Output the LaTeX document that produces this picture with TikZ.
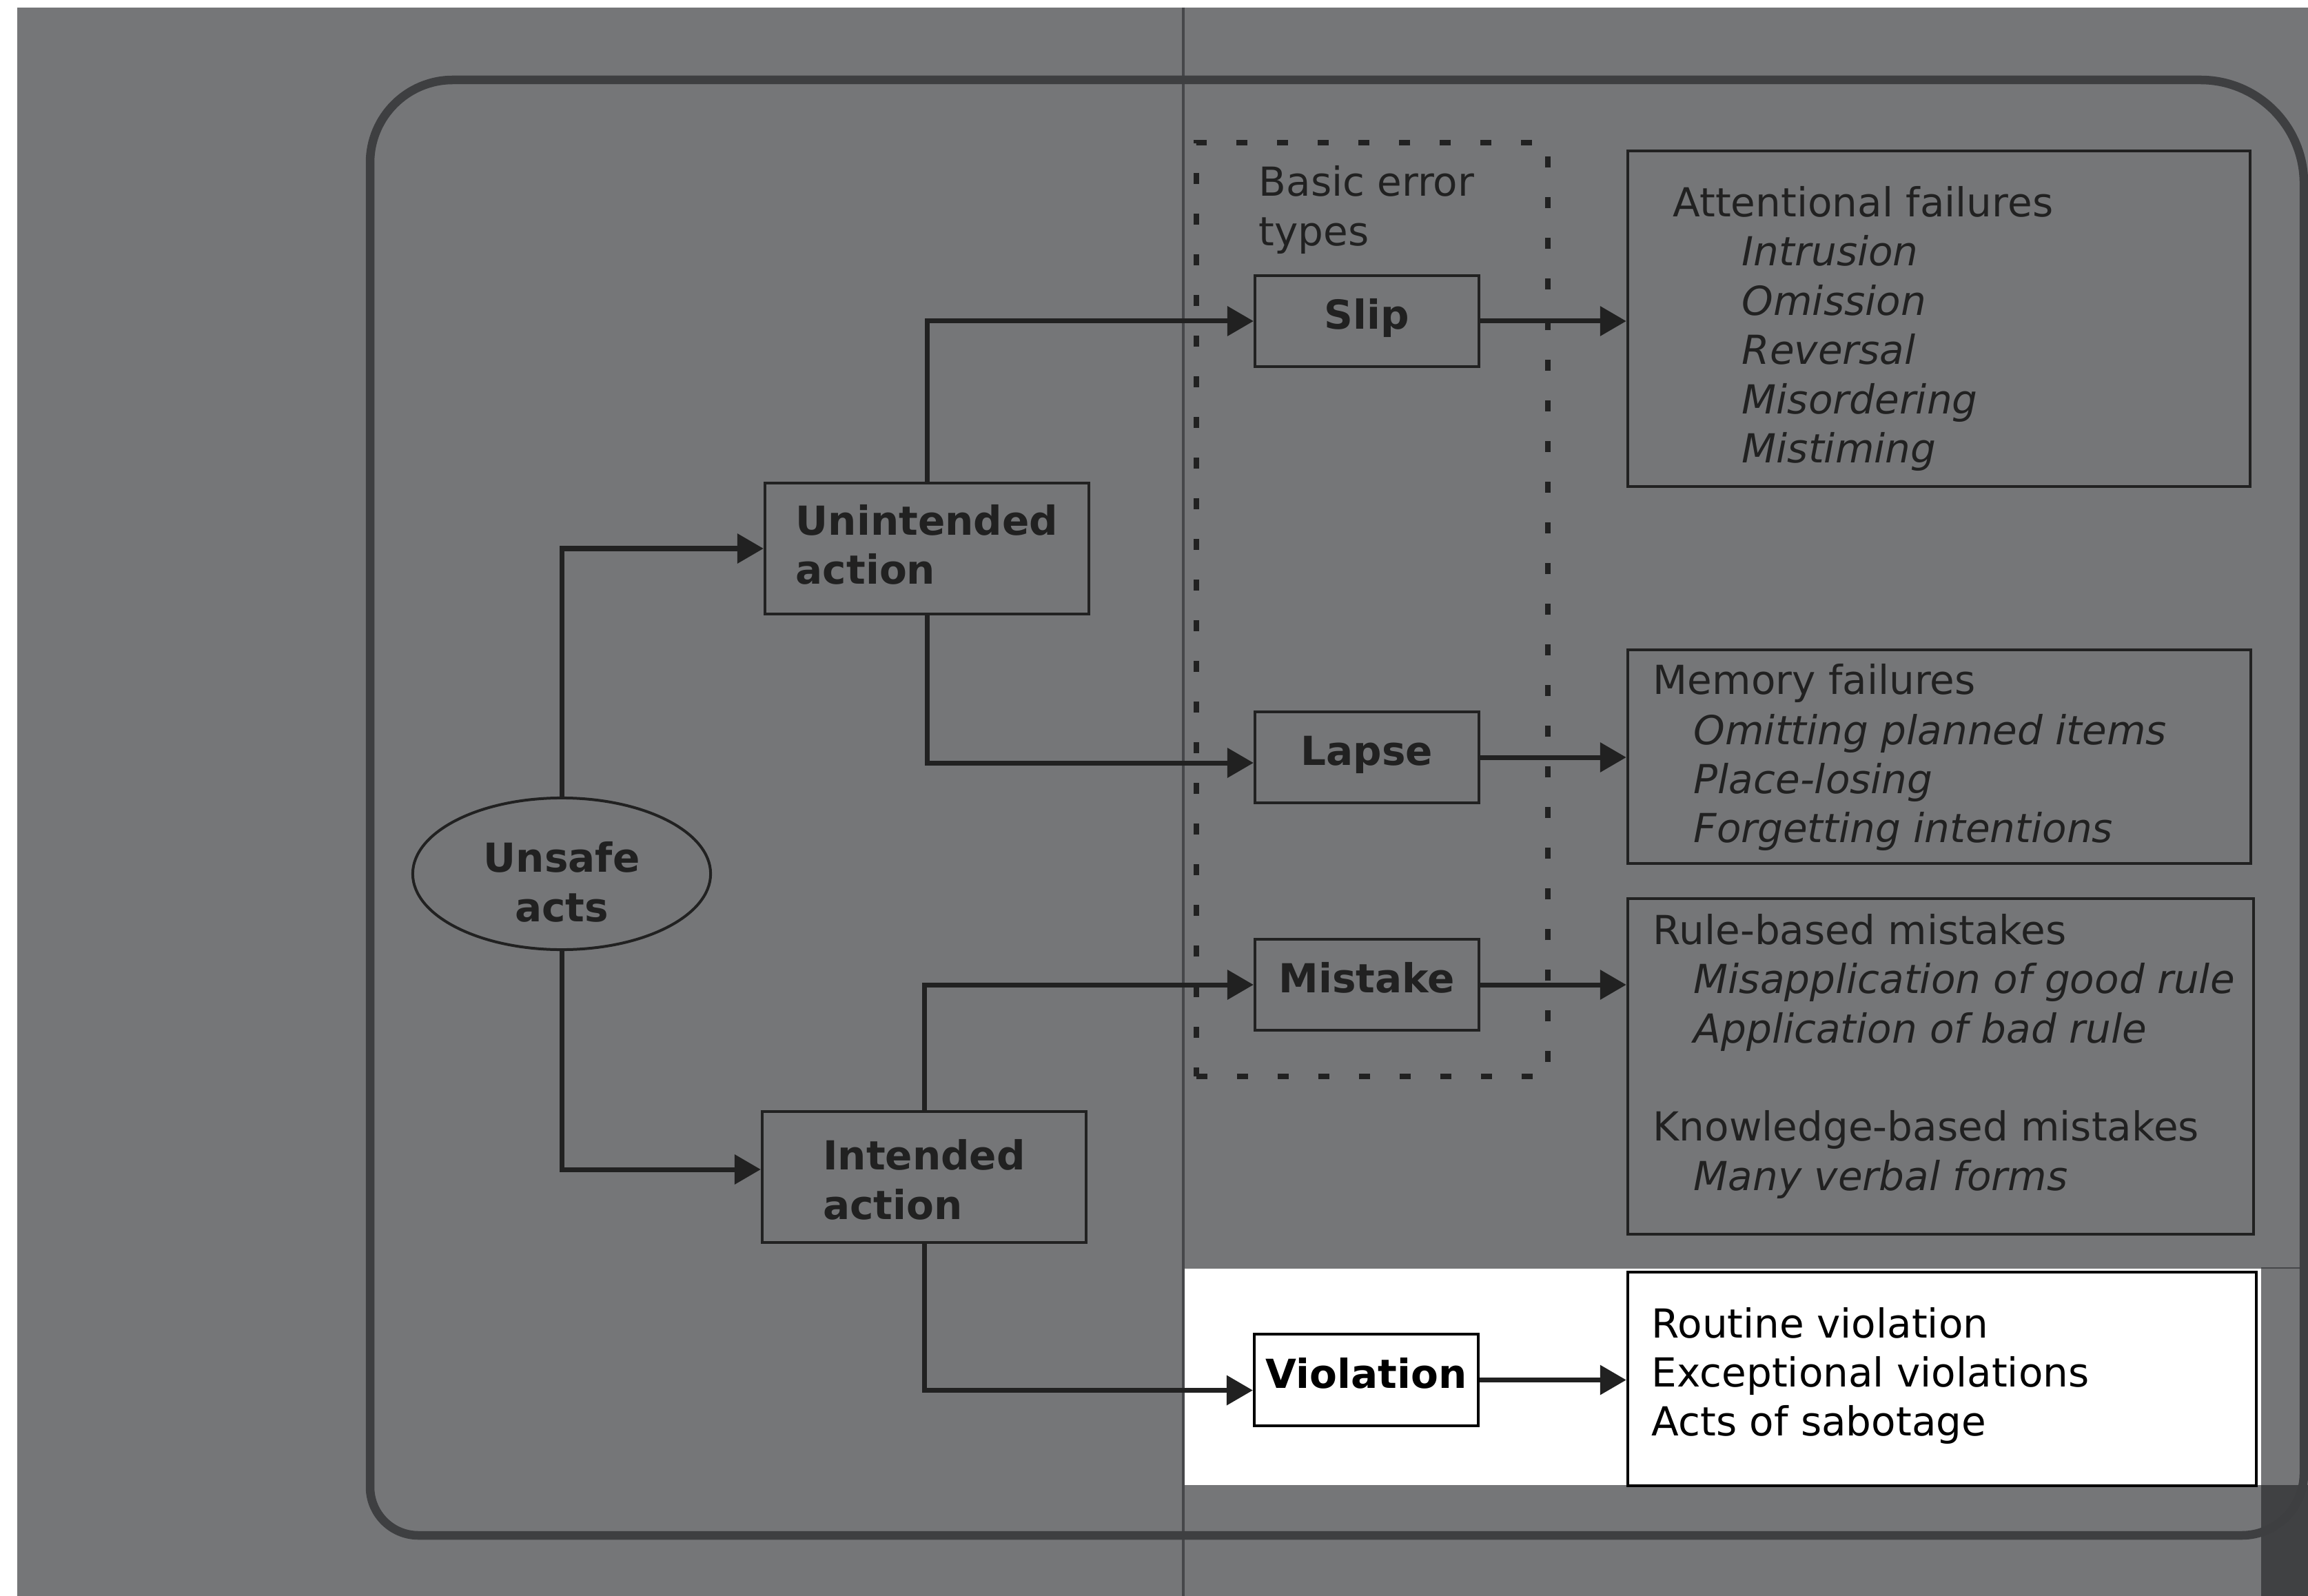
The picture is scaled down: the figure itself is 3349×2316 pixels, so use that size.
\documentclass[tikz,border=0pt]{standalone}
\usepackage{fontspec}
\setmainfont{DejaVu Sans}
\usetikzlibrary{arrows.meta,shapes.geometric}
\definecolor{bggray}{HTML}{757678}
\definecolor{framegray}{HTML}{3E3F41}
\definecolor{ink}{HTML}{212121}
\definecolor{cornerdark}{HTML}{404143}
\definecolor{thinline}{HTML}{46474A}
\newcommand{\mysize}{\fontsize{16.5pt}{20.35pt}\selectfont}
\begin{document}
\begin{tikzpicture}[x=0.01cm,y=-0.01cm,
  txt/.style={font=\mysize, text=ink, inner sep=0pt, anchor=base west},
  itx/.style={txt, font=\mysize\itshape},
  wtx/.style={txt, text=black},
  box/.style={draw=ink, line width=0.04cm, inner sep=0pt},
  errbox/.style={box, minimum width=3.25cm, minimum height=1.32cm, font=\mysize\bfseries, text=ink, text height=0.8em, text depth=0.13em},
  actbox/.style={box, minimum width=4.7cm, minimum height=1.89cm, align=left, font=\mysize\bfseries, text=ink},
  conn/.style={draw=ink, line width=0.07cm, -{Triangle[length=0.38cm,width=0.42cm]}},
]
\useasboundingbox (0,0) rectangle (3349,2316);
% background layers
\fill[white] (0,0) rectangle (3349,2316);
\fill[bggray] (25,11) rectangle (3349,2316);
\fill[white] (1719,1841) rectangle (3281,2155);
\fill[cornerdark] (3281,2155) rectangle (3349,2316);
\draw[thinline, line width=0.035cm] (1717,11) -- (1717,2316);
\draw[thinline, line width=0.02cm] (3281,1840) -- (3349,1840);
% outer frame
\draw[framegray, line width=0.125cm] (537,1200) [rounded corners=1.2cm] -- (537,116) [rounded corners=1.5cm] -- (3343,116) [rounded corners=0.9cm] -- (3343,2228) [rounded corners=0.7cm] -- (537,2228) -- cycle;
% dotted group
\node[draw=ink, line width=0.08cm, dash pattern=on 0.16cm off 0.43cm, minimum width=5.1cm, minimum height=13.55cm, inner sep=0pt] (basic) at (1991,884.5) {};
\node[txt] (basic1) at (1826,285) {Basic error};
\node[txt] (basic2) at (1826,357) {types};
% error type boxes
\node[errbox] (slip) at (1983.5,466) {Slip};
\node[errbox] (lapse) at (1983.5,1099) {Lapse};
\node[errbox] (mistake) at (1983.5,1429) {Mistake};
\node[errbox, draw=black, text=black] (viol) at (1982.5,2002.5) {Violation};
% action boxes
\node[actbox] (unint) at (1345,796) {Unintended\\action\rule[-0.12cm]{0pt}{0.12cm}};
\node[actbox] (inten) at (1341,1708) {\rule{0pt}{0.52cm}Intended\\action};
\node[draw=ink, line width=0.04cm, ellipse, minimum width=4.32cm, minimum height=2.2cm, inner sep=0pt, align=center, font=\mysize\bfseries, text=ink] (ua) at (815,1268) {\rule{0pt}{0.68cm}Unsafe\\acts};
% description boxes
\node[box, minimum width=9.03cm, minimum height=4.87cm] (attn) at (2813.5,462.5) {};
\node[box, minimum width=9.04cm, minimum height=3.10cm] (mem) at (2814,1098) {};
\node[box, minimum width=9.08cm, minimum height=4.87cm] (rule) at (2816,1547.5) {};
\node[box, draw=black, minimum width=9.12cm, minimum height=3.10cm] (routine) at (2818,2001) {};
% texts of description boxes
\node[txt] (a0) at (2427,315) {Attentional failures};
\node[itx] (a1) at (2527,386) {Intrusion};
\node[itx] (a2) at (2527,458) {Omission};
\node[itx] (a3) at (2527,529) {Reversal};
\node[itx] (a4) at (2527,601) {Misordering};
\node[itx] (a5) at (2527,672) {Mistiming};
\node[txt] (m0) at (2398,1007) {Memory failures};
\node[itx] (m1) at (2457,1080) {Omitting planned items};
\node[itx] (m2) at (2457,1151) {Place-losing};
\node[itx] (m3) at (2457,1222) {Forgetting intentions};
\node[txt] (r0) at (2398,1370) {Rule-based mistakes};
\node[itx] (r1) at (2457,1441) {Misapplication of good rule};
\node[itx] (r2) at (2457,1513) {Application of bad rule};
\node[txt] (r3) at (2398,1655) {Knowledge-based mistakes};
\node[itx] (r4) at (2457,1727) {Many verbal forms};
\node[wtx] (v0) at (2396,1941) {Routine violation};
\node[wtx] (v1) at (2396,2012) {Exceptional violations};
\node[wtx] (v2) at (2396,2083) {Acts of sabotage};
% connectors
\draw[conn] (ua.north) |- (unint.west);
\draw[conn] (ua.south) |- ([yshift=0.11cm]inten.west);
\draw[conn] (unint.north) |- (slip.west);
\draw[conn] (unint.south) |- ([yshift=-0.08cm]lapse.west);
\draw[conn] (inten.north) |- (mistake.west);
\draw[conn] (inten.south) |- ([yshift=-0.15cm]viol.west);
\draw[conn] (slip.east) -- (slip.east -| attn.west);
\draw[conn] (lapse.east) -- (lapse.east -| mem.west);
\draw[conn] (mistake.east) -- (mistake.east -| rule.west);
\draw[conn] (viol.east) -- (viol.east -| routine.west);
\end{tikzpicture}
\end{document}
